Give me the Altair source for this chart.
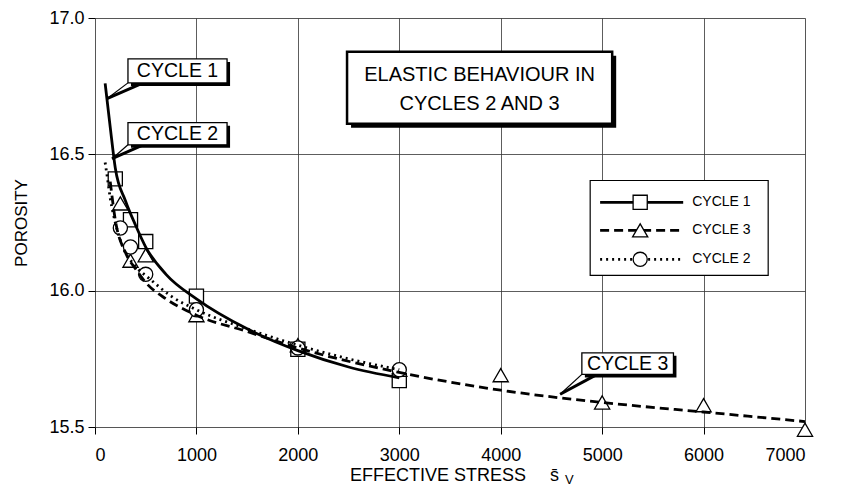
import altair as alt
import pandas as pd

# ---- measured points (open markers) ----
c1_x = [200, 350, 500, 1000, 2000, 3000]
c1_y = [16.41, 16.26, 16.18, 15.98, 15.785, 15.67]
c2_x = [250, 350, 500, 1000, 2000, 3000]
c2_y = [16.23, 16.16, 16.06, 15.93, 15.79, 15.71]
c3_x = [250, 350, 500, 1000, 2000, 3000, 4000, 5000, 6000, 7000]
c3_y = [16.32, 16.11, 16.13, 15.91, 15.80, 15.71, 15.69, 15.59, 15.58, 15.49]

# ---- fitted curves ----
k1_x = [100, 150, 200, 300, 400, 500, 700, 1000, 1500, 2000, 2500, 3000]
k1_y = [16.76, 16.60, 16.45, 16.33, 16.24, 16.16, 16.06, 15.97, 15.86, 15.78, 15.72, 15.68]
k2_x = [100, 120, 150, 200, 275, 400, 550, 750, 1000, 1500, 2000, 2500, 3000]
k2_y = [16.47, 16.42, 16.34, 16.25, 16.16, 16.09, 16.04, 15.98, 15.93, 15.86, 15.80, 15.75, 15.71]
k3_x = [150, 200, 300, 400, 500, 700, 1000, 1500, 2000, 3000, 4000, 5000, 6000, 7000]
k3_y = [16.40, 16.26, 16.14, 16.08, 16.03, 15.97, 15.91, 15.85, 15.79, 15.70, 15.635, 15.59, 15.555, 15.52]

x_ticks = [0, 1000, 2000, 3000, 4000, 5000, 6000, 7000]
y_ticks = [15.5, 16.0, 16.5, 17.0]

# ---- callout annotations (data coordinates) ----
call_label = ["CYCLE 1", "CYCLE 2", "CYCLE 3"]
call_x = [325, 325, 4800]
call_x2 = [1302, 1302, 5703]
call_y = [16.85, 16.616, 15.772]
call_y2 = [16.762, 16.535, 15.693]
call_tip_x = [118, 168, 4586]
call_tip_y = [16.704, 16.484, 15.62]
call_anchor_x = [475, 475, 4950]

title_lines = ["ELASTIC BEHAVIOUR IN", "CYCLES 2 AND 3"]
title_box = dict(x=2485, x2=5099, y=16.876, y2=16.612)
title_ty = [16.79, 16.685]

leg_label = ["CYCLE 1", "CYCLE 3", "CYCLE 2"]
leg_y = [16.324, 16.221, 16.115]
leg_box = dict(x=4882, x2=6637, y=16.404, y2=16.056)
leg_line = (4980, 5799)
leg_mark_x = 5375
leg_text_x = 5888

FONT = "Liberation Sans"

xs = alt.Scale(domain=[0, 7000], nice=False, zero=False)
ys = alt.Scale(domain=[15.5, 17.0], nice=False, zero=False)
x_axis = alt.Axis(values=x_ticks, format="d", grid=True, gridColor="#333333", gridWidth=0.8,
                  domain=False, ticks=True, tickColor="black", tickSize=7, tickWidth=1,
                  labelFontSize=18, labelColor="black", labelPadding=12, labelFont=FONT, title=None)
y_axis = alt.Axis(values=y_ticks, format=".1f", grid=True, gridColor="#333333", gridWidth=0.8,
                  domain=False, ticks=True, tickColor="black", tickSize=7, tickWidth=1,
                  labelFontSize=18, labelColor="black", labelPadding=4, labelFont=FONT,
                  title="POROSITY", titleFont=FONT, titleFontSize=17, titleFontWeight="normal",
                  titleColor="black", titlePadding=18)

X = alt.X("x:Q", scale=xs, axis=x_axis)
Y = alt.Y("y:Q", scale=ys, axis=y_axis)

def df(xv, yv):
    return pd.DataFrame({"x": xv, "y": yv})

def marker(data, shape, size):
    return alt.Chart(data).mark_point(shape=shape, size=size, filled=True, fill="white",
                                      stroke="black", strokeWidth=1.3, opacity=1).encode(x=X, y=Y)

def curve(data, dash, width=2.8):
    kw = dict(interpolate="monotone", color="black", strokeWidth=width)
    if dash:
        kw["strokeDash"] = dash
    return alt.Chart(data).mark_line(**kw).encode(x=X, y=Y, order="x:Q")

p1 = marker(df(c1_x, c1_y), "square", 200)
p3 = marker(df(c3_x, c3_y), "triangle-up", 230)
p2 = marker(df(c2_x, c2_y), "circle", 200)

l1 = curve(df(k1_x, k1_y), None)
l2 = curve(df(k2_x, k2_y), [2, 4])
l3 = curve(df(k3_x, k3_y), [9, 5])

# callouts
cdf = pd.DataFrame({"label": call_label, "x": call_x, "x2": call_x2, "y": call_y, "y2": call_y2,
                    "tx": call_tip_x, "ty": call_tip_y, "ax": call_anchor_x,
                    "cx": [(a + b) / 2 for a, b in zip(call_x, call_x2)],
                    "cy": [(a + b) / 2 for a, b in zip(call_y, call_y2)]})
c_shadow = alt.Chart(cdf).mark_rect(fill="black", xOffset=3, x2Offset=3, yOffset=3, y2Offset=3).encode(
    x=X, x2="x2:Q", y=Y, y2="y2:Q")
c_box = alt.Chart(cdf).mark_rect(fill="white", stroke="black", strokeWidth=1.3).encode(
    x=X, x2="x2:Q", y=Y, y2="y2:Q")
c_w1 = alt.Chart(cdf).mark_rule(color="black", strokeWidth=1.2).encode(
    x=X, y=alt.Y("y2:Q", scale=ys, axis=y_axis), x2="tx:Q", y2="ty:Q")
c_w2 = alt.Chart(cdf).mark_rule(color="black", strokeWidth=3).encode(
    x=alt.X("ax:Q", scale=xs, axis=x_axis), y=alt.Y("y2:Q", scale=ys, axis=y_axis), x2="tx:Q", y2="ty:Q")
c_txt = alt.Chart(cdf).mark_text(font=FONT, fontSize=19.5, color="black", align="center", baseline="middle").encode(
    x=alt.X("cx:Q", scale=xs, axis=x_axis), y=alt.Y("cy:Q", scale=ys, axis=y_axis), text="label:N")

# title box
tb = pd.DataFrame([title_box])
t_shadow = alt.Chart(tb).mark_rect(fill="black", xOffset=4, x2Offset=4, yOffset=4, y2Offset=4).encode(
    x=X, x2="x2:Q", y=Y, y2="y2:Q")
t_box = alt.Chart(tb).mark_rect(fill="white", stroke="black", strokeWidth=2.5).encode(
    x=X, x2="x2:Q", y=Y, y2="y2:Q")
tt = pd.DataFrame({"label": title_lines, "x": [(title_box["x"] + title_box["x2"]) / 2] * 2, "y": title_ty})
t_txt = alt.Chart(tt).mark_text(font=FONT, fontSize=20, color="black", align="center", baseline="middle").encode(
    x=X, y=Y, text="label:N")

# legend
lb = pd.DataFrame([leg_box])
g_box = alt.Chart(lb).mark_rect(fill="white", stroke="black", strokeWidth=1.2).encode(
    x=X, x2="x2:Q", y=Y, y2="y2:Q")
def leg_line_layer(i, dash, width):
    d = pd.DataFrame({"x": [leg_line[0]], "x2": [leg_line[1]], "y": [leg_y[i]]})
    kw = dict(color="black", strokeWidth=width)
    if dash:
        kw["strokeDash"] = dash
    return alt.Chart(d).mark_rule(**kw).encode(x=X, x2="x2:Q", y=Y)
g_l1 = leg_line_layer(0, None, 2.8)
g_l3 = leg_line_layer(1, [9, 5], 2.8)
g_l2 = leg_line_layer(2, [2, 4], 2.8)
g_m1 = marker(df([leg_mark_x], [leg_y[0]]), "square", 200)
g_m3 = marker(df([leg_mark_x], [leg_y[1]]), "triangle-up", 230)
g_m2 = marker(df([leg_mark_x], [leg_y[2]]), "circle", 200)
gt = pd.DataFrame({"label": leg_label, "x": [leg_text_x] * 3, "y": leg_y})
g_txt = alt.Chart(gt).mark_text(font=FONT, fontSize=14, color="black", align="left", baseline="middle").encode(
    x=X, y=Y, text="label:N")

# x-axis title drawn as text (overbar s with subscript v)
xt = alt.Chart(pd.DataFrame({"t": ["EFFECTIVE STRESS"]})).mark_text(
    font=FONT, fontSize=18, color="black", align="left", baseline="middle").encode(
    x=alt.value(255), y=alt.value(458), text="t:N")
xs_s = alt.Chart(pd.DataFrame({"t": ["s\u0304"]})).mark_text(
    font=FONT, fontSize=18, color="black", align="left", baseline="middle").encode(
    x=alt.value(455), y=alt.value(458), text="t:N")
xs_v = alt.Chart(pd.DataFrame({"t": ["V"]})).mark_text(
    font=FONT, fontSize=13, color="black", align="left", baseline="middle").encode(
    x=alt.value(470), y=alt.value(462), text="t:N")

chart = alt.layer(
    p1, p3, p2, l1, l3, l2,
    c_w1, c_w2, c_shadow, c_box, c_txt,
    t_shadow, t_box, t_txt,
    g_box, g_l1, g_l3, g_l2, g_m1, g_m3, g_m2, g_txt,
    xt, xs_s, xs_v,
).properties(
    width=710, height=409,
    autosize=alt.AutoSizeParams(type="none"),
    padding={"left": 87, "top": 10, "right": 36, "bottom": 63},
).configure_view(stroke="black", strokeWidth=3).configure(font=FONT, background="white")

chart.save("out.html", embed_options={"renderer": "svg", "actions": False})
